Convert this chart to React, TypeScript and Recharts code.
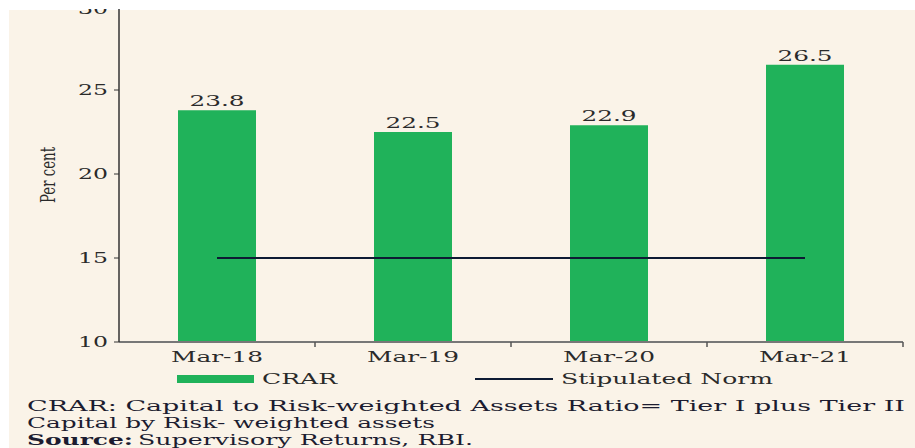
import React from 'react';
import { ComposedChart, Bar, Line, XAxis, YAxis, LabelList } from 'recharts';

const categories = ['Mar-18', 'Mar-19', 'Mar-20', 'Mar-21'];
const crarValues = [23.8, 22.5, 22.9, 26.5];
const normValues = [15, 15, 15, 15];
const yTicks = [10, 15, 20, 25, 30];
const crarName = 'CRAR';
const normName = 'Stipulated Norm';
const yLabel = 'Per cent';
const footnote1 = 'CRAR: Capital to Risk-weighted Assets Ratio= Tier I plus Tier II';
const footnote2 = 'Capital by Risk- weighted assets';
const sourceLabel = 'Source:';
const sourceText = 'Supervisory Returns, RBI.';

const data = categories.map((c, i) => ({ cat: c, crar: crarValues[i], norm: normValues[i] }));

const FONT = '"DejaVu Serif", serif';
const GREEN = '#20b25a';
const NAVY = '#0d1a33';
const CREAM = '#faf3e8';
const TEXT = '#2a2a2a';
const X_TICK_SIZE = 6;
const X_TICK_MARGIN = 2;

const XTick = (props: any) => {
  const { x, y, payload, width, visibleTicksCount } = props;
  const band = width / (visibleTicksCount || 4);
  const axisY = y - X_TICK_SIZE - X_TICK_MARGIN;
  const bx = x + band / 2;
  return (
    <g>
      <line x1={bx} x2={bx} y1={axisY} y2={axisY + 5} stroke="#555" strokeWidth={1.5} />
      <text x={x} y={y + 12} textAnchor="middle" fontFamily={FONT} fontSize={14} fill={TEXT}
        textLength={92} lengthAdjust="spacingAndGlyphs">{payload.value}</text>
    </g>
  );
};

const YTick = (props: any) => {
  const { x, y, payload } = props;
  return (
    <text x={x - 4} y={y + 5} textAnchor="end" fontFamily={FONT} fontSize={14} fill={TEXT}
      textLength={30} lengthAdjust="spacingAndGlyphs">{payload.value}</text>
  );
};

const YLabel = (props: any) => {
  const vb = props.viewBox || { x: 0, y: 6, width: 119, height: 336 };
  const cx = vb.x + 55;
  const cy = vb.y + vb.height / 2 + 1;
  return (
    <text transform={`translate(${cx},${cy}) scale(1.45,1) rotate(-90)`} textAnchor="middle"
      fontFamily={FONT} fontSize={14} fill={TEXT} textLength={56} lengthAdjust="spacingAndGlyphs">{yLabel}</text>
  );
};

const BarValue = (props: any) => {
  const { x, y, width, value } = props;
  return (
    <text x={x + width / 2} y={y - 4} textAnchor="middle" fontFamily={FONT} fontSize={14} fill={TEXT}
      textLength={55} lengthAdjust="spacingAndGlyphs">{String(value)}</text>
  );
};

export default function App() {
  return (
    <div style={{ position: 'absolute', left: 0, top: 0, width: 915, height: 448, background: '#fff', overflow: 'hidden' }}>
      <div style={{ position: 'absolute', left: 9, top: 10, width: 906, height: 438, background: CREAM }} />
      <div style={{ position: 'absolute', left: 0, top: 0 }}>
        <ComposedChart width={915} height={448} data={data} margin={{ top: 6, right: 12, bottom: 76, left: 0 }}>
          <XAxis dataKey="cat" tick={<XTick />} tickLine={false} tickSize={X_TICK_SIZE} tickMargin={X_TICK_MARGIN}
            axisLine={{ stroke: '#777', strokeWidth: 2 }} height={30} interval={0} />
          <YAxis domain={[10, 30]} ticks={yTicks} width={119} tick={<YTick />} tickSize={5}
            axisLine={{ stroke: '#333', strokeWidth: 1.5 }} tickLine={{ stroke: '#333' }}
            label={<YLabel />} />
          <Bar dataKey="crar" name={crarName} fill={GREEN} barSize={78} isAnimationActive={false}>
            <LabelList dataKey="crar" content={<BarValue />} />
          </Bar>
          <Line dataKey="norm" name={normName} stroke={NAVY} strokeWidth={2} dot={false} activeDot={false} isAnimationActive={false} />
        </ComposedChart>
      </div>
      <div style={{ position: 'absolute', left: 0, top: 0, width: 915, height: 9, background: '#fff' }} />
      <svg style={{ position: 'absolute', left: 0, top: 360 }} width={915} height={88}>
        <rect x={177} y={15} width={77} height={8} fill={GREEN} />
        <text x={262} y={24} fontFamily={FONT} fontSize={14} fill={TEXT} textLength={75} lengthAdjust="spacingAndGlyphs">{crarName}</text>
        <line x1={475} x2={553} y1={19} y2={19} stroke={NAVY} strokeWidth={2} />
        <text x={561} y={24} fontFamily={FONT} fontSize={14} fill={TEXT} textLength={212} lengthAdjust="spacingAndGlyphs">{normName}</text>
        <text x={27} y={51} fontFamily={FONT} fontSize={15} fill="#1c1c30" textLength={878} lengthAdjust="spacingAndGlyphs">{footnote1}</text>
        <text x={27} y={68} fontFamily={FONT} fontSize={15} fill="#1c1c30" textLength={408} lengthAdjust="spacingAndGlyphs">{footnote2}</text>
        <text x={27} y={85} fontFamily={FONT} fontSize={15} fontWeight="bold" fill="#1c1c30" textLength={106} lengthAdjust="spacingAndGlyphs">{sourceLabel}</text>
        <text x={138} y={85} fontFamily={FONT} fontSize={15} fill="#1c1c30" textLength={335} lengthAdjust="spacingAndGlyphs">{sourceText}</text>
      </svg>
    </div>
  );
}
